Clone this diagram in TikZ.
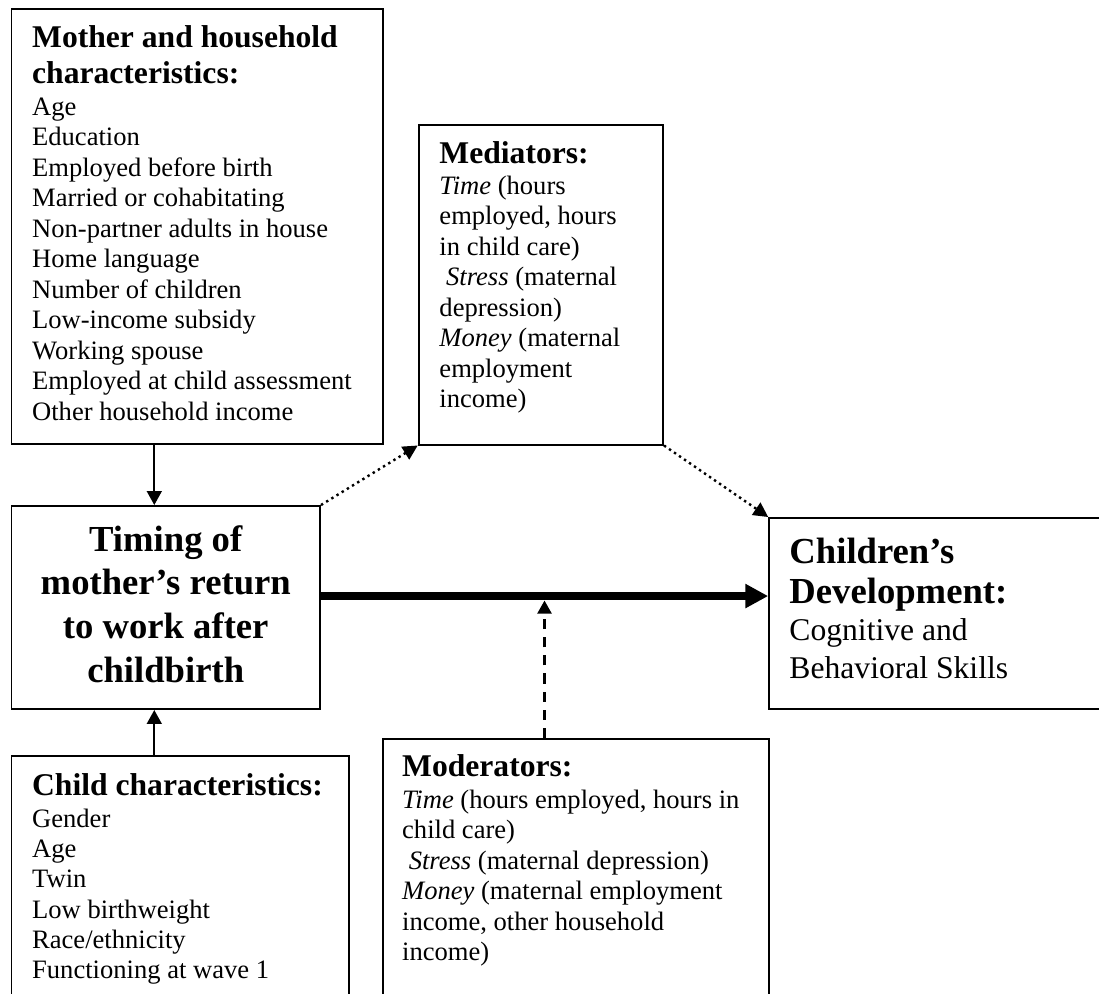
\documentclass[tikz,border=0pt]{standalone}
\usepackage{fontspec}
\setmainfont{Liberation Serif}
\usetikzlibrary{arrows.meta,calc}
\begin{document}
\begin{tikzpicture}[x=0.4365pt,y=-0.4365pt,
  box/.style={draw, line width=0.87pt, anchor=north west, inner sep=0pt},
  txt/.style={anchor=base west, align=left, inner sep=0pt},
  body/.style={font=\fontsize{11.6}{13.31}\selectfont},
  head/.style={font=\fontsize{13.8}{15.71}\selectfont\bfseries},
  solidarr/.style={line width=0.87pt, -{Triangle[length=6.1pt,width=6.5pt]}},
  thickarr/.style={line width=3.7pt, -{Triangle[length=10pt,width=10pt]}},
  dasharr/.style={line width=1.1pt, dash pattern=on 4.4pt off 3.5pt, -{Triangle[length=5.7pt,width=6.1pt]}},
  dotarr/.style={line width=1.05pt, dash pattern=on 1.05pt off 1.6pt, -{Triangle[length=6.4pt,width=6.4pt]}}
]
\useasboundingbox (0,0) rectangle (1099,993);
\clip (0,0) rectangle (1099,993);

% Mother and household box (text anchors at last baseline)
\node[box, minimum width=161.94pt, minimum height=189.88pt] (mother) at (10.5,7.6) {};
\node[txt, head] (motherhead) at (31.7,83) {Mother and household\\characteristics:};
\node[txt, body] (motherlist) at (31.7,420) {Age\\Education\\Employed before birth\\Married or cohabitating\\Non-partner adults in house\\Home language\\Number of children\\Low-income subsidy\\Working spouse\\Employed at child assessment\\Other household income};

% Mediators box
\node[box, minimum width=106.64pt, minimum height=139.68pt] (mediators) at (417.7,123.5) {};
\node[txt, head] (medhead) at (439,163) {Mediators:};
\node[txt, body] (medlist) at (439,407.5) {\textit{Time} (hours\\employed, hours\\in child care)\\\hspace*{0.25em}\textit{Stress} (maternal\\depression)\\\textit{Money} (maternal\\employment\\income)};

% Timing box
\node[box, minimum width=134.66pt, minimum height=88.61pt] (timing) at (10.5,505) {};
\node[align=center, inner sep=0pt, font=\fontsize{16}{19.07}\selectfont\bfseries] (timingtext) at ([yshift=1.6pt]timing.center) {Timing of\\mother’s return\\to work after\\childbirth};

% Children's development box
\node[box, minimum width=149.2pt, minimum height=83.37pt] (children) at (768.2,517) {};
\node[txt, font=\fontsize{16}{17.46}\selectfont\bfseries] (childhead) at (789,603) {Children’s\\Development:};
\node[txt, font=\fontsize{13.8}{16.59}\selectfont] (childbody) at (789,678) {Cognitive and\\Behavioral Skills};

% Child characteristics box
\node[box, minimum width=147.19pt, minimum height=113.5pt] (childchar) at (10.5,755) {};
\node[txt, head] (cchead) at (31.7,795) {Child characteristics:};
\node[txt, font=\fontsize{11.6}{13.2}\selectfont] (cclist) at (31.7,978.5) {Gender\\Age\\Twin\\Low birthweight\\Race/ethnicity\\Functioning at wave 1};

% Moderators box
\node[box, minimum width=168.79pt, minimum height=120.9pt] (moderators) at (381.5,737.8) {};
\node[txt, head] (modhead) at (401.7,776) {Moderators:};
\node[txt, body] (modlist) at (401.7,960.5) {\textit{Time} (hours employed, hours in\\child care)\\\hspace*{0.25em}\textit{Stress} (maternal depression)\\\textit{Money} (maternal employment\\income, other household\\income)};

% Connectors
\coordinate (ax) at ([xshift=-5pt]timing.north);
\draw[solidarr] (ax |- mother.south) -- (ax);
\coordinate (bx) at ([xshift=-5pt]timing.south);
\draw[solidarr] (bx |- childchar.north) -- (bx);

\coordinate (tx) at ([yshift=5pt]timing.east);
\draw[thickarr] (tx) -- (tx -| children.west);

\coordinate (dx) at ([xshift=-13.68pt]moderators.north);
\coordinate (dtip) at ($(dx |- tx)+(0,4.5)$);
\draw[dasharr] (dx) -- (dtip);

\draw[dotarr] (timing.north east) -- (mediators.south west);
\draw[dotarr] (mediators.south east) -- (children.north west);
\end{tikzpicture}
\end{document}
